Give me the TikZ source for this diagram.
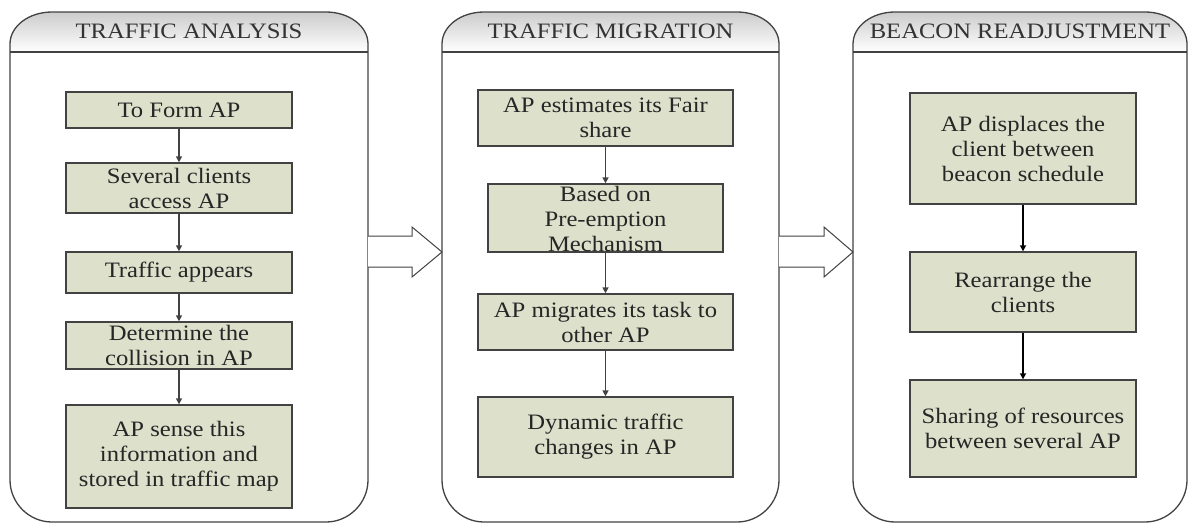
\documentclass[tikz,border=0pt]{standalone}
\usepackage{fontspec}
\setmainfont[FakeStretch=1.12]{Liberation Serif}
\usetikzlibrary{arrows.meta}
\definecolor{boxfill}{RGB}{221,224,203}
\definecolor{edgecol}{RGB}{66,66,66}
\begin{document}
\begin{tikzpicture}[x=1pt,y=-1pt,
  font=\fontsize{22}{25}\selectfont,
  box/.style={draw=edgecol, line width=1.4pt, fill=boxfill, inner sep=0pt, align=center, text=black!85},
  txt/.style={inner sep=0pt, align=center, text=black!85},
  flow/.style={draw=edgecol, line width=1.6pt, -{Triangle[length=6pt,width=6pt]}},
  paneledge/.style={draw=edgecol, line width=1.3pt},
  headline/.style={draw=edgecol, line width=2pt},
  blockarrow/.style={draw=edgecol, line width=1pt, fill=white, line join=miter},
  title/.style={inner sep=0pt, anchor=base, text=black!80}]
\useasboundingbox (0,0) rectangle (1188,523);

% panels
\foreach \xa/\xb/\t/\n in {10/368/{TRAFFIC ANALYSIS}/h1, 442/779/{TRAFFIC MIGRATION}/h2, 853/1187/{BEACON READJUSTMENT}/h3}{
  \shade[top color=gray!40, bottom color=white]
    (\xa,52) -- (\xa,44) .. controls (\xa,26) and (\xa+19,12) .. (\xa+42,12)
    -- (\xb-42,12) .. controls (\xb-19,12) and (\xb,26) .. (\xb,44) -- (\xb,52) -- cycle;
  \draw[paneledge]
    (\xa,480) -- (\xa,44) .. controls (\xa,26) and (\xa+19,12) .. (\xa+42,12)
    -- (\xb-42,12) .. controls (\xb-19,12) and (\xb,26) .. (\xb,44)
    -- (\xb,480) .. controls (\xb,503) and (\xb-19,522) .. (\xb-42,522)
    -- (\xa+42,522) .. controls (\xa+19,522) and (\xa,503) .. (\xa,480) -- cycle;
  \draw[headline] (\xa,52) -- (\xb,52);
  \node[title] (\n) at ({(\xa+\xb)/2},38) {\t};
}

% panel 1
\node[box, minimum width=226, minimum height=36]  (a1) at (179,110)   {To Form AP};
\node[box, minimum width=226, minimum height=50]  (a2) at (179,188)   {Several clients\\access AP};
\node[box, minimum width=226, minimum height=41]  (a3) at (179,272.5) {Traffic appears};
\node[box, minimum width=226, minimum height=47]  (a4) at (179,345.5) {Determine the\\collision in AP};
\node[box, minimum width=226, minimum height=103] (a5) at (179,456.5) {AP sense this\\information and\\stored in traffic map};
\draw[flow] (a1) -- (a2);
\draw[flow] (a2) -- (a3);
\draw[flow] (a3) -- (a4);
\draw[flow] (a4) -- (a5);

% panel 2
\node[box, minimum width=255, minimum height=56] (b1) at (605.5,118) {AP estimates its Fair\\share};
\node[box, minimum width=235, minimum height=68] (b2) at (605.5,218) {};
\node[txt] (b2t) at (605.5,219) {Based on\\Pre-emption\\Mechanism};
\node[box, minimum width=255, minimum height=56] (b3) at (605.5,322) {AP migrates its task to\\other AP};
\node[box, minimum width=255, minimum height=80] (b4) at (605.5,437) {Dynamic traffic\\changes in AP};
\draw[flow] (b1) -- (b2);
\draw[flow] (b2) -- (b3);
\draw[flow] (b3) -- (b4);

% panel 3
\node[box, minimum width=226, minimum height=111] (c1) at (1023,148.5) {AP displaces the\\client between\\beacon schedule};
\node[box, minimum width=226, minimum height=80]  (c2) at (1023,292)   {Rearrange the\\clients};
\node[box, minimum width=226, minimum height=97]  (c3) at (1023,428.5) {Sharing of resources\\between several AP};
\draw[flow, draw=black] (c1) -- (c2);
\draw[flow, draw=black] (c2) -- (c3);

% block arrows between panels
\coordinate (t1) at (442,252);
\coordinate (t2) at (853,252);
\draw[blockarrow] (368,236) -- (412,236) -- (412,227) -- (t1) -- (412,277) -- (412,267) -- (368,267);
\draw[blockarrow] (779,236) -- (824,236) -- (824,227) -- (t2) -- (824,277) -- (824,267) -- (779,267);
\end{tikzpicture}
\end{document}
